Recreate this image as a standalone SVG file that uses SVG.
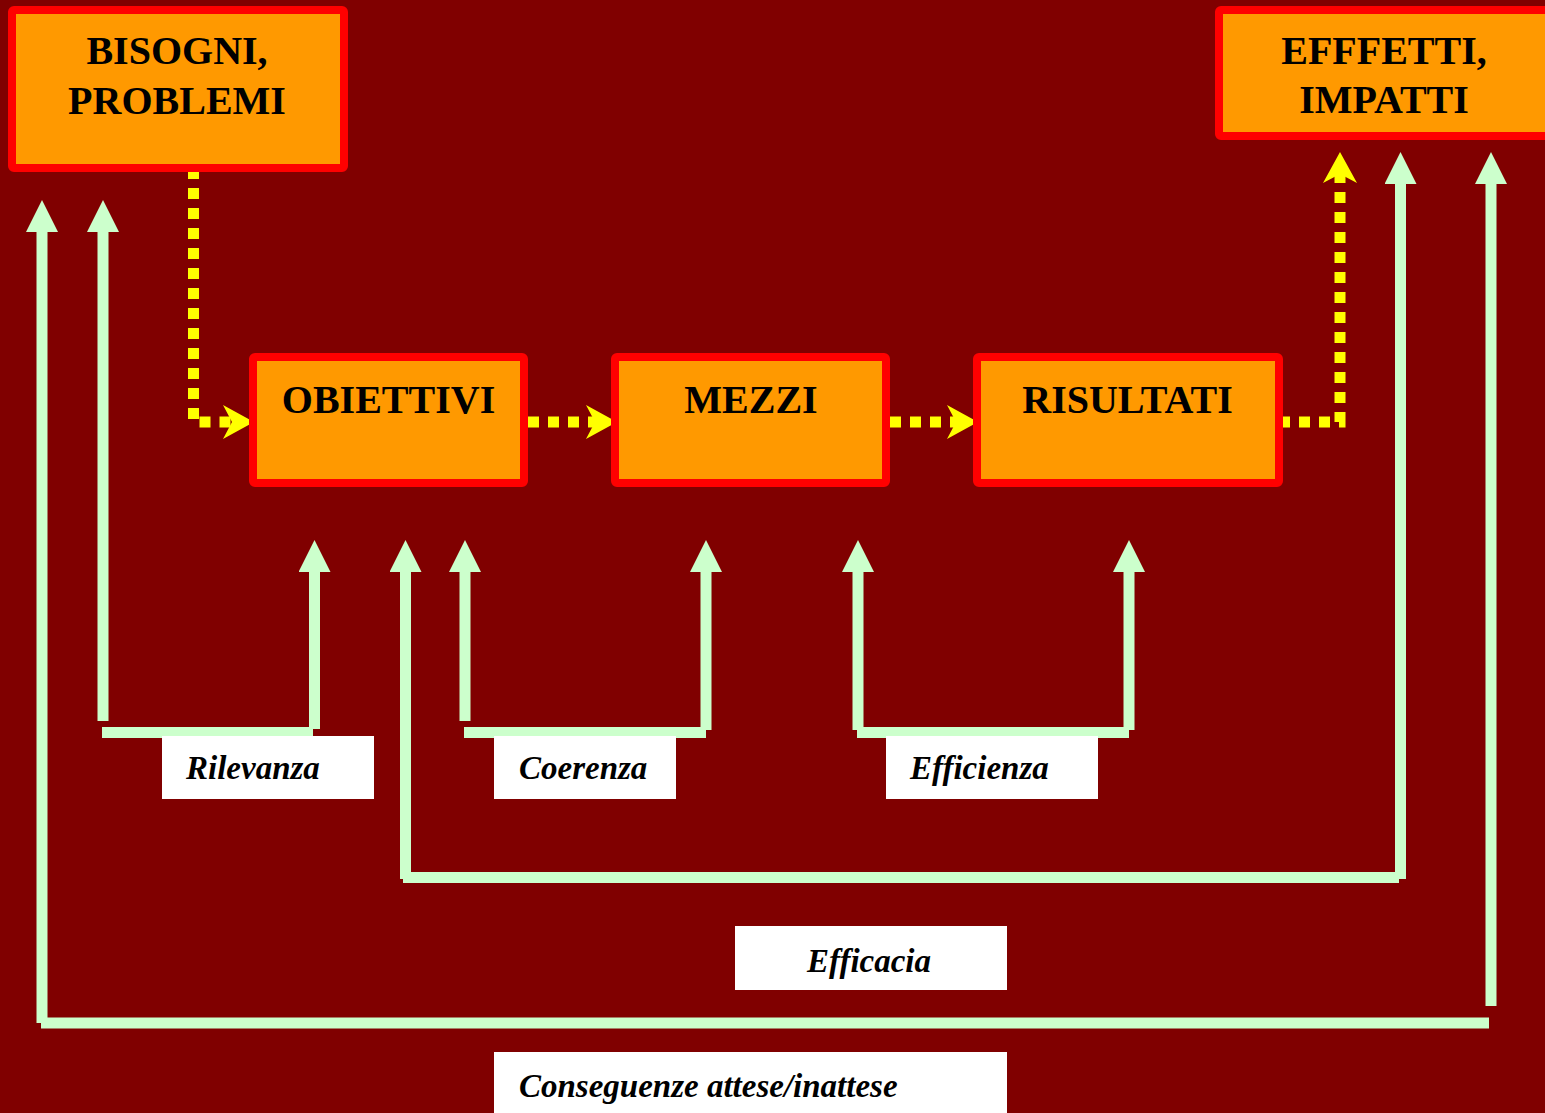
<svg xmlns="http://www.w3.org/2000/svg" width="1545" height="1113" viewBox="0 0 1545 1113">
<style>
.box{fill:#FF9900;stroke:#FF0000;stroke-width:8}
.hd{font-family:"Liberation Serif","Times New Roman",serif;font-weight:bold;font-size:40px;fill:#000;text-anchor:middle}
.lb{fill:#FFFFFF}
.lt{font-family:"Liberation Serif","Times New Roman",serif;font-weight:bold;font-style:italic;font-size:33px;fill:#000}
.g{stroke:#CCFFCC;stroke-width:11;fill:none;stroke-linecap:butt}
.y{stroke:#FFFF00;stroke-width:11;fill:none;stroke-dasharray:11 9}
</style>
<defs>
<marker id="ga" markerUnits="userSpaceOnUse" markerWidth="32" markerHeight="32" viewBox="0 0 32 32" refX="0" refY="16" orient="auto">
<path d="M0,0 L32,16 L0,32 Z" fill="#CCFFCC"/>
</marker>
<marker id="ya" markerUnits="userSpaceOnUse" markerWidth="32" markerHeight="34" viewBox="0 0 32 34" refX="9" refY="17" orient="auto">
<path d="M0,0 L31,17 L0,34 L9,17 Z" fill="#FFFF00"/>
</marker>
</defs>
<rect x="0" y="0" width="1545" height="1113" fill="#800000"/>

<g id="connectors">
<path class="y" d="M193.5,168 V422 H232" marker-end="url(#ya)"/>
<path class="y" d="M528,422 H595" marker-end="url(#ya)"/>
<path class="y" d="M890,422 H956" marker-end="url(#ya)"/>
<path class="y" d="M1279,422 H1340 V174" marker-end="url(#ya)"/>

<line class="g" x1="42" y1="1023" x2="42" y2="232" marker-end="url(#ga)"/>
<line class="g" x1="41" y1="1023" x2="1489" y2="1023"/>
<line class="g" x1="1491" y1="1006" x2="1491" y2="184" marker-end="url(#ga)"/>

<line class="g" x1="103" y1="721" x2="103" y2="232" marker-end="url(#ga)"/>
<line class="g" x1="102" y1="732.5" x2="313" y2="732.5"/>
<line class="g" x1="314.5" y1="729" x2="314.5" y2="572" marker-end="url(#ga)"/>

<line class="g" x1="405.5" y1="879" x2="405.5" y2="572" marker-end="url(#ga)"/>
<line class="g" x1="403" y1="877.5" x2="1399" y2="877.5"/>
<line class="g" x1="1400.5" y1="879" x2="1400.5" y2="184" marker-end="url(#ga)"/>

<line class="g" x1="465" y1="721" x2="465" y2="572" marker-end="url(#ga)"/>
<line class="g" x1="464" y1="732.5" x2="706" y2="732.5"/>
<line class="g" x1="706" y1="730" x2="706" y2="572" marker-end="url(#ga)"/>

<line class="g" x1="858" y1="730" x2="858" y2="572" marker-end="url(#ga)"/>
<line class="g" x1="857" y1="732.5" x2="1129" y2="732.5"/>
<line class="g" x1="1129" y1="730" x2="1129" y2="572" marker-end="url(#ga)"/>
</g>

<g id="bisogni">
<rect class="box" x="12" y="10" width="332" height="158" rx="2"/>
<text class="hd" x="177" y="64">BISOGNI,</text>
<text class="hd" x="177" y="114">PROBLEMI</text>
</g>
<g id="effetti">
<rect class="box" x="1219" y="10" width="340" height="126" rx="2"/>
<text class="hd" x="1384" y="64">EFFFETTI,</text>
<text class="hd" x="1384" y="113">IMPATTI</text>
</g>
<g id="obiettivi">
<rect class="box" x="253" y="357" width="271" height="126" rx="2"/>
<text class="hd" x="388.5" y="413">OBIETTIVI</text>
</g>
<g id="mezzi">
<rect class="box" x="615" y="357" width="271" height="126" rx="2"/>
<text class="hd" x="751" y="413">MEZZI</text>
</g>
<g id="risultati">
<rect class="box" x="977" y="357" width="302" height="126" rx="2"/>
<text class="hd" x="1127.5" y="413">RISULTATI</text>
</g>

<g id="rilevanza">
<rect class="lb" x="162" y="736" width="212" height="63"/>
<text class="lt" x="186" y="779">Rilevanza</text>
</g>
<g id="coerenza">
<rect class="lb" x="494" y="736" width="182" height="63"/>
<text class="lt" x="519" y="779">Coerenza</text>
</g>
<g id="efficienza">
<rect class="lb" x="886" y="736" width="212" height="63"/>
<text class="lt" x="910" y="779">Efficienza</text>
</g>
<g id="efficacia">
<rect class="lb" x="735" y="926" width="272" height="64"/>
<text class="lt" x="807" y="972">Efficacia</text>
</g>
<g id="conseguenze">
<rect class="lb" x="494" y="1052" width="513" height="61"/>
<text class="lt" x="519" y="1097">Conseguenze attese/inattese</text>
</g>
</svg>
